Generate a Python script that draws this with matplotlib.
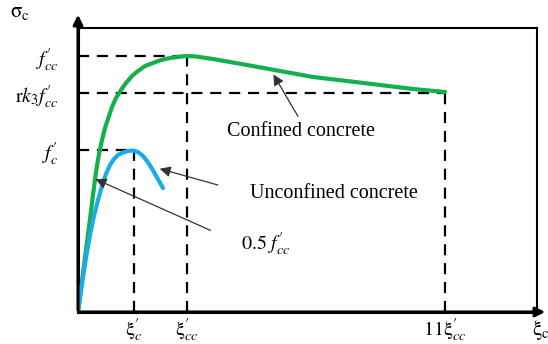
import matplotlib
matplotlib.use("Agg")
import matplotlib.pyplot as plt

plt.rcParams['font.family'] = ['Liberation Serif', 'DejaVu Serif']
plt.rcParams['mathtext.fontset'] = 'stix'

# curve data (strain, stress) in arbitrary units
confined_strain = [0, 4, 8, 12, 15, 18, 21, 24, 27, 30, 34, 38, 43, 48, 54, 60, 67, 75,
                   83, 92, 100, 108, 118, 135, 169, 202, 235, 269, 302, 335, 367]
confined_stress = [0, 31, 62, 93, 117, 140, 158, 172, 184, 193, 205, 214, 222, 229, 236,
                   241, 246, 249, 252, 254, 255, 256, 255.5, 253, 247, 241, 235, 231, 227,
                   223, 220]

unconfined_strain = [0, 4, 8, 12, 16, 20, 24, 28, 32, 36, 40, 45, 50, 55, 60, 65, 69, 73,
                     77, 81, 85]
unconfined_stress = [0, 28, 54, 77, 96, 112, 126, 138, 147, 153, 157, 159.5, 161, 161.5,
                     160, 156, 151, 145, 138, 131, 124]

# reference levels
fc = 162
fcc = 256
rk3fcc = 219
eps_c = 56
eps_cc = 109
eps_end = 367

green = '#14b04b'
blue = '#1cabe9'

fig = plt.figure(figsize=(5.48, 3.44), dpi=100)
ax = fig.add_axes([78 / 548, 32 / 344, 459 / 548, 284 / 344])
ax.set_xlim(0, 459)
ax.set_ylim(0, 284)

for s in ['top', 'right']:
    ax.spines[s].set_linewidth(1.5)
for s in ['left', 'bottom']:
    ax.spines[s].set_linewidth(2.2)

# dashed guide lines
dash = dict(color='black', lw=1.6, linestyle=(0, (5, 3.5)), zorder=1)
ax.plot([0, eps_cc], [fcc, fcc], **dash)
ax.plot([eps_cc, eps_cc], [0, fcc], **dash)
ax.plot([0, eps_end], [rk3fcc, rk3fcc], **dash)
ax.plot([eps_end, eps_end], [0, rk3fcc], **dash)
ax.plot([0, eps_c], [fc, fc], **dash)
ax.plot([eps_c, eps_c], [0, fc], **dash)

# curves
ax.plot(confined_strain, confined_stress, color=green, lw=3, zorder=3,
        solid_capstyle='round', solid_joinstyle='round')
ax.plot(unconfined_strain, unconfined_stress, color=blue, lw=3, zorder=3,
        solid_capstyle='round', solid_joinstyle='round')

# axis arrows
ax.annotate('', xy=(0, 300), xytext=(0, -1), annotation_clip=False,
            arrowprops=dict(arrowstyle='-|>', color='black', lw=2.2, mutation_scale=14))
ax.annotate('', xy=(470, 0), xytext=(-1, 0), annotation_clip=False,
            arrowprops=dict(arrowstyle='-|>', color='black', lw=2.2, mutation_scale=14))

# ticks
ax.set_xticks([eps_c, eps_cc, eps_end])
ax.set_xticklabels([r"$\mathrm{\xi}_{c}^{\prime}$", r"$\mathrm{\xi}_{cc}^{\prime}$",
                    r"$11\mathrm{\xi}_{cc}^{\prime}$"], fontsize=14.5)
ax.set_yticks([fc, rk3fcc, fcc])
ax.set_yticklabels([r"$f_{c}^{\prime}$", r"$\mathrm{r}k_3f_{cc}^{\prime}$",
                    r"$f_{cc}^{\prime}$"], fontsize=14.5)
ax.tick_params(axis='x', length=0, pad=3)
ax.tick_params(axis='y', length=0, pad=14)

ax.text(-58, 300, r"$\mathrm{\sigma_c}$", fontsize=15, ha='center', va='center', clip_on=False)
ax.text(463, -18, r"$\mathrm{\xi_c}$", fontsize=15, ha='center', va='center', clip_on=False)

# annotations
arrow = dict(arrowstyle='-|>', color='#333333', lw=0.9, mutation_scale=16)
ax.annotate('Confined concrete', xy=(194, 240), xytext=(223, 181), fontsize=14.5,
            ha='center', va='center', arrowprops=dict(arrow, relpos=(0.5, 1.0)))
ax.annotate('Unconfined concrete', xy=(79, 144), xytext=(256, 118), fontsize=14.5,
            ha='center', va='center', arrowprops=dict(arrow, relpos=(0.0, 0.5), shrinkA=22))
ax.annotate(r"$0.5\ f_{cc}^{\prime}$", xy=(15, 134), xytext=(188, 68), fontsize=14.5,
            ha='center', va='center', arrowprops=dict(arrow, relpos=(0.0, 0.5), shrinkA=22))

fig.savefig('out.png', dpi=100)
